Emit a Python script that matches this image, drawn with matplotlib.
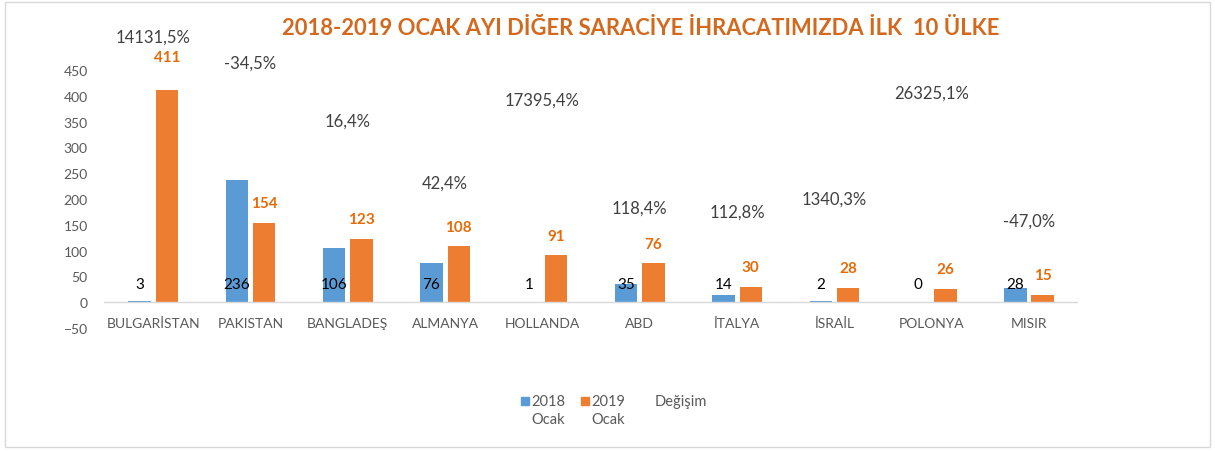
import numpy as np
import matplotlib.pyplot as plt
from matplotlib.patches import Rectangle

plt.rcParams['font.family'] = ['Lato', 'DejaVu Sans']

# data
countries = ["BULGARİSTAN", "PAKISTAN", "BANGLADEŞ", "ALMANYA", "HOLLANDA",
             "ABD", "İTALYA", "İSRAİL", "POLONYA", "MISIR"]
ocak_2018 = [3, 236, 106, 76, 1, 35, 14, 2, 0, 28]
ocak_2019 = [411, 154, 123, 108, 91, 76, 30, 28, 26, 15]
degisim = ["14131,5%", "-34,5%", "16,4%", "42,4%", "17395,4%",
           "118,4%", "112,8%", "1340,3%", "26325,1%", "-47,0%"]
# heights where the change labels sit (primary axis units)
degisim_y = [514, 464, 351, 231, 392, 184, 175, 200, 407, 159]

blue = "#5B9BD5"
orange = "#ED7D31"
grey = "#595959"

fig = plt.figure(figsize=(12.15, 4.52), dpi=100)
ax = fig.add_axes([0.086, 0.272, 0.801, 0.571])

x = np.arange(len(countries))
w = 0.23
ax.bar(x - 0.14, ocak_2018, w, color=blue)
ax.bar(x + 0.14, ocak_2019, w, color=orange)

ax.set_xlim(-0.5, len(countries) - 0.5)
ax.set_ylim(-50, 450)
ax.set_yticks(np.arange(-50, 451, 50))
ax.set_xticks([])
ax.tick_params(length=0, labelsize=10, labelcolor=grey, pad=12)
for s in ax.spines.values():
    s.set_visible(False)
ax.axhline(0, color="#D9D9D9", lw=1)

# category labels just under the zero line
for xi, c in zip(x, countries):
    ax.annotate(c, (xi, 0), xytext=(0, -15), textcoords="offset points",
                ha="center", va="center", fontsize=10, color=grey)

# 2018 labels at the bar base
for xi, v in zip(x, ocak_2018):
    ax.annotate(str(v), (xi - 0.14, 0), xytext=(0, 13), textcoords="offset points",
                ha="center", va="center", fontsize=11, color="black")

# 2019 labels above the bars
for i, (xi, v) in enumerate(zip(x, ocak_2019)):
    off = 24 if i == 0 else 14
    ax.annotate(str(v), (xi + 0.14, v), xytext=(0, off), textcoords="offset points",
                ha="center", va="center", fontsize=11, color="#E46C0A",
                fontweight="bold", annotation_clip=False)

# change labels
for xi, t, yy in zip(x, degisim, degisim_y):
    ax.text(xi, yy, t, ha="center", va="center", fontsize=12, color="#404040",
            clip_on=False)

fig.text(0.527, 0.938, "2018-2019 OCAK AYI DİĞER SARACİYE İHRACATIMIZDA İLK  10 ÜLKE",
         ha="center", va="center", fontsize=15.8, fontweight="bold", color="#D2691E")

# legend, drawn by hand so the key sits on the first text line
leg_y = 1 - 402 / 452
leg_y2 = 1 - 420 / 452
sq_w, sq_h = 8 / 1215, 8 / 452
for px, col, lab in [(521, blue, "2018"), (581, orange, "2019")]:
    fig.patches.append(Rectangle((px / 1215, leg_y - sq_h / 2), sq_w, sq_h,
                                 transform=fig.transFigure, color=col))
    fig.text((px + 10) / 1215, leg_y, lab, ha="left", va="center",
             fontsize=10.5, color=grey)
    fig.text((px + 10) / 1215, leg_y2, "Ocak", ha="left", va="center",
             fontsize=10.5, color=grey)
fig.text(655 / 1215, leg_y, "Değişim", ha="left", va="center", fontsize=10.5, color=grey)

fig.patches.append(Rectangle((0.004, 0.008), 0.992, 0.985, transform=fig.transFigure,
                             fill=False, edgecolor="#D9D9D9", lw=1))

fig.savefig("out.png", dpi=100)
